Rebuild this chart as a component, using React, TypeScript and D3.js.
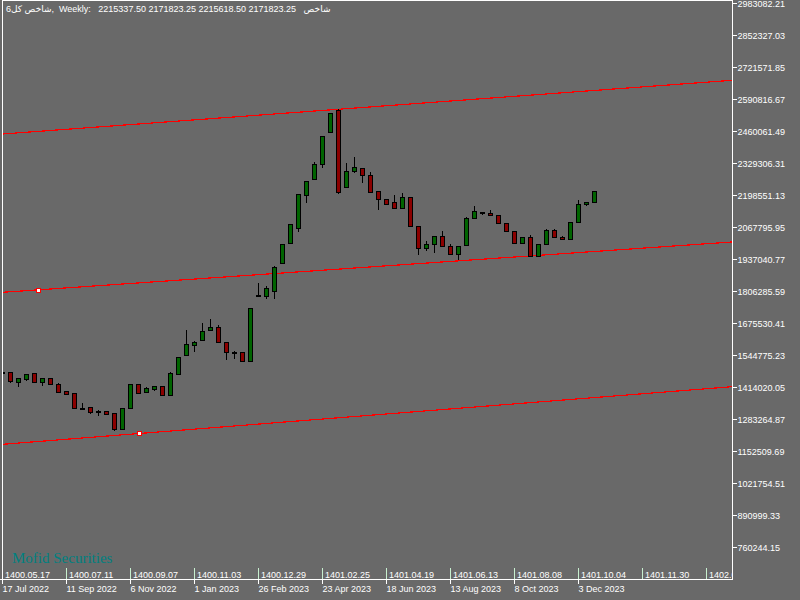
import React from 'react';
import * as d3 from 'd3';

// Weekly candles (index 0..74)
const opens = [
  1476000, 1475311, 1436902, 1447934, 1471225, 1436902, 1450794, 1426278, 1397675, 1389503,
  1330663, 1332297, 1317179, 1315953, 1307781, 1244855, 1330663, 1426278, 1396041, 1408299,
  1418105, 1383783, 1469591, 1547227, 1588088, 1608518, 1649379, 1659185, 1597894, 1559485,
  1557033, 1522710, 1792393, 1788307, 1808737, 1920696, 2002418, 2063709, 2201003, 2263928,
  2325220, 2458427, 2547095, 2231239, 2296617, 2308875, 2280272, 2214895, 2182206, 2169948,
  2145431, 2193647, 2071881, 1981987, 1998332, 2031020, 1990159, 1957471, 1994245, 2104570,
  2125001, 2125001, 2116828, 2084140, 2051451, 2002418, 2026934, 1949298, 1998332, 2055537,
  2026934, 2018762, 2088226, 2161776, 2171823.25,
];
const closes = [
  1478000, 1440988, 1450794, 1467139, 1436902, 1450794, 1426278, 1396041, 1387869, 1328211,
  1330663, 1314319, 1317179, 1306147, 1244855, 1328211, 1426278, 1391955, 1409933, 1418105,
  1383783, 1471225, 1536602, 1589722, 1599120, 1642841, 1659185, 1600346, 1557033, 1559485,
  1522710, 1736821, 1792393, 1818543, 1904351, 1998332, 2080054, 2202637, 2255756, 2325220,
  2439630, 2533611, 2213261, 2296617, 2312961, 2280272, 2213261, 2182206, 2161776, 2145431,
  2193647, 2071881, 1981987, 1998332, 2031020, 1990159, 1957471, 1990159, 2104570, 2133173,
  2129087, 2116828, 2084140, 2051451, 2002418, 2026934, 1949298, 1998332, 2055537, 2026934,
  2018762, 2088226, 2161776, 2169948, 2215618.5,
];
const highs = [
  1479000, 1475311, 1450794, 1467139, 1471225, 1450794, 1450794, 1431590, 1397675, 1389503,
  1348642, 1332297, 1321265, 1315953, 1307781, 1328211, 1426278, 1426278, 1414019, 1418105,
  1418105, 1475311, 1536602, 1648153, 1603206, 1677982, 1693100, 1668583, 1597894, 1563571,
  1557033, 1736821, 1840200, 1827941, 1909663, 1998332, 2080054, 2202637, 2255756, 2333392,
  2439630, 2533611, 2549955, 2330532, 2355048, 2308875, 2292531, 2214895, 2182206, 2198550,
  2206723, 2193647, 2071881, 2010590, 2031020, 2051451, 1998332, 1990159, 2108656, 2153603,
  2129087, 2137259, 2116828, 2084140, 2051451, 2026934, 2035106, 1998332, 2059623, 2059623,
  2031020, 2088226, 2178120, 2169948, 2215618.5,
];
const lows = [
  1475000, 1436902, 1419331, 1443848, 1436902, 1423417, 1426278, 1396041, 1387869, 1328211,
  1330663, 1310233, 1302061, 1306147, 1240769, 1244855, 1330663, 1391955, 1396041, 1404213,
  1383783, 1383783, 1469591, 1547227, 1563571, 1608518, 1649379, 1600346, 1530882, 1533742,
  1522710, 1522710, 1792393, 1780134, 1780134, 1920696, 2002418, 2053903, 2172400, 2263928,
  2315413, 2458427, 2209175, 2231239, 2292531, 2254122, 2213261, 2143797, 2161776, 2145431,
  2145431, 2071881, 1957471, 1976267, 1965643, 1990159, 1957471, 1937040, 1994245, 2104570,
  2122141, 2116828, 2084140, 2051451, 2002418, 2002418, 1949298, 1949298, 1998332, 2026934,
  2018762, 2018762, 2088226, 2157689, 2171823.25,
];

// price axis labels
const priceTicks = [
  '2983082.21', '2852327.03', '2721571.85', '2590816.67', '2460061.49', '2329306.31',
  '2198551.13', '2067795.95', '1937040.77', '1806285.59', '1675530.41', '1544775.23',
  '1414020.05', '1283264.87', '1152509.69', '1021754.51', '890999.33', '760244.15',
];

// time labels every 8 bars
const dateLabels = [
  '17 Jul 2022', '11 Sep 2022', '6 Nov 2022', '1 Jan 2023', '26 Feb 2023',
  '23 Apr 2023', '18 Jun 2023', '13 Aug 2023', '8 Oct 2023', '3 Dec 2023',
];
const persianLabels = [
  '1400.05.17', '1400.07.11', '1400.09.07', '1400.11.03', '1400.12.29', '1401.02.25',
  '1401.04.19', '1401.06.13', '1401.08.08', '1401.10.04', '1401.11.30', '1402.01.26',
];

// channel lines: [startIndex, startPrice, endIndex, endPrice]
const channelStartIdx = [0, 0, 0];
const channelStartPrice = [2449029, 1802199, 1181112];
const channelEndIdx = [91.2, 91.2, 91.2];
const channelEndPrice = [2668452, 2007730, 1416471];
// channel anchor points
const anchorIdx = [4.375, 17];
const anchorPrice = [1810000, 1226000];

const headerText = 'شاخص کل6,  Weekly:   2215337.50 2171823.25 2215618.50 2171823.25   شاخص';
const brandText = 'Mofid Securities';

const W = 800;
const H = 600;
const plotLeft = 2.5;
const plotRight = 732.5;
const plotTop = 0.5;
const plotBottom = 579.5;

const BG = '#696969';
const font = '"Liberation Sans", Arial, "DejaVu Sans", sans-serif';

export default function App() {
  const x = d3.scaleLinear().domain([0, 74]).range([2.5, 594.5]);
  const y = d3.scaleLinear().domain([760244.15, 2983082.21]).range([547.3, 3.3]);

  const snap = (v: number) => Math.round(v) + 0.5;

  const candles = opens.map((o, i) => {
    const c = closes[i];
    const h = highs[i];
    const l = lows[i];
    const cx = x(i);
    const top = snap(y(Math.max(o, c)));
    let bot = snap(y(Math.min(o, c)));
    if (bot - top < 1) bot = top + 1;
    const bull = c > o;
    const flat = Math.abs(c - o) < 1e-6 || bot - top <= 1;
    const fill = flat ? '#000' : bull ? '#006400' : '#8b0000';
    return (
      <g key={i}>
        <line x1={cx} x2={cx} y1={Math.round(y(h))} y2={Math.round(y(l)) + 1} stroke="#000" strokeWidth={1} />
        <rect x={cx - 2} y={top} width={4} height={bot - top} fill={fill} stroke="#000" strokeWidth={1} />
      </g>
    );
  });

  const channelPath = d3.line<[number, number]>().x((d) => x(d[0])).y((d) => y(d[1]));

  return (
    <svg
      width={W}
      height={H}
      style={{ position: 'absolute', left: 0, top: 0, background: BG, display: 'block' }}
      xmlns="http://www.w3.org/2000/svg"
    >
      <defs>
        <clipPath id="plotClip">
          <rect x={plotLeft + 0.5} y={plotTop + 0.5} width={plotRight - plotLeft - 1} height={plotBottom - plotTop - 1} />
        </clipPath>
      </defs>
      <rect x={0} y={0} width={W} height={H} fill={BG} />

      <g clipPath="url(#plotClip)" shapeRendering="crispEdges">
        {channelStartIdx.map((s, k) => (
          <path
            key={k}
            d={channelPath([
              [s, channelStartPrice[k]],
              [channelEndIdx[k], channelEndPrice[k]],
            ]) || ''}
            stroke="#ff0000"
            strokeWidth={1.2}
            fill="none"
          />
        ))}
        {candles}
        {anchorIdx.map((a, k) => (
          <rect
            key={k}
            x={Math.round(x(a)) - 2 + 0.5}
            y={Math.round(y(anchorPrice[k])) - 2 + 0.5}
            width={4}
            height={4}
            fill="#fff"
            stroke="#ff0000"
            strokeWidth={1}
          />
        ))}
        {persianLabels.map((t, k) => {
          const tx = x(k * 8);
          return (
            <g key={k}>
              <line x1={tx} x2={tx} y1={568} y2={579} stroke="#c8f0d0" strokeWidth={1} />
              <text x={tx + 2.5} y={578} fill="#fff" fontSize={9} fontFamily={font}>
                {t}
              </text>
            </g>
          );
        })}
      </g>

      <text x={12} y={563} fill="#008080" fontSize={15} fontFamily='"Liberation Serif", "Times New Roman", serif'>
        {brandText}
      </text>

      <g shapeRendering="crispEdges">
        <line x1={plotLeft} x2={plotLeft} y1={0} y2={plotBottom} stroke="#fff" />
        <line x1={plotLeft} x2={plotRight} y1={plotTop} y2={plotTop} stroke="#fff" />
        <line x1={plotRight} x2={plotRight} y1={0} y2={plotBottom} stroke="#fff" />
        <line x1={0} x2={plotRight} y1={plotBottom} y2={plotBottom} stroke="#fff" />
      </g>

      {priceTicks.map((t) => {
        const ty = Math.round(y(parseFloat(t))) + 0.5;
        return (
          <g key={t}>
            <line x1={plotRight} x2={plotRight + 4} y1={ty} y2={ty} stroke="#fff" shapeRendering="crispEdges" />
            <text x={737.5} y={ty + 3.3} fill="#fff" fontSize={9} fontFamily={font}>
              {t}
            </text>
          </g>
        );
      })}

      {dateLabels.map((t, k) => {
        const tx = x(k * 8);
        return (
          <g key={t}>
            <line x1={tx} x2={tx} y1={plotBottom} y2={plotBottom + 4} stroke="#fff" shapeRendering="crispEdges" />
            <text x={tx} y={591.5} fill="#fff" fontSize={9} fontFamily={font}>
              {t}
            </text>
          </g>
        );
      })}

      <text x={6} y={12} fill="#fff" fontSize={9} fontFamily={font} direction="ltr" style={{ whiteSpace: 'pre' }}>
        {headerText}
      </text>
    </svg>
  );
}
